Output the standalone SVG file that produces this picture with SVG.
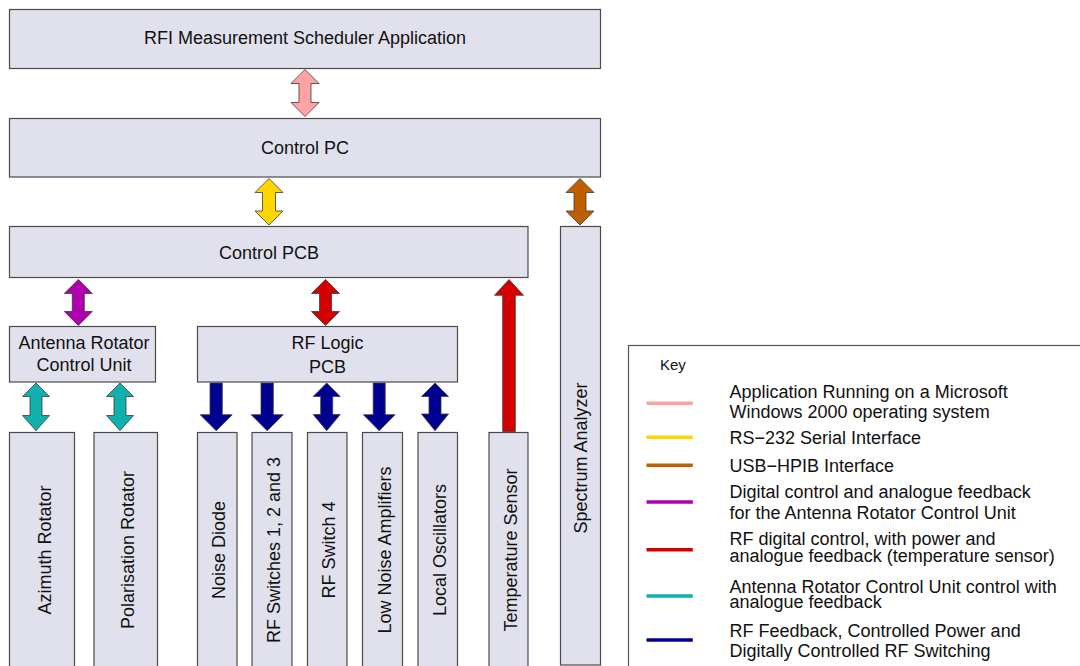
<svg xmlns="http://www.w3.org/2000/svg" width="1080" height="666" viewBox="0 0 1080 666">
  <style>
    .box { fill: #E1E1ED; stroke: #4A4A4A; stroke-width: 1.2; }
    .lbl { font-family: "Liberation Sans", Arial, sans-serif; font-size: 18px; fill: #111; text-anchor: middle; }
    .key { font-family: "Liberation Sans", Arial, sans-serif; font-size: 18px; fill: #111; }
    .arr { stroke: #3A3A3A; stroke-width: 0.8; stroke-linejoin: miter; }
    .pink { fill: #FFA3A3; }
    .yellow { fill: #FFD500; }
    .brown { fill: #C05F00; }
    .purple { fill: #B000B0; }
    .red { fill: #D40000; }
    .teal { fill: #12AFAF; }
    .navy { fill: #000090; }
    .kl { stroke-width: 3.5; }
  </style>

  <rect x="0" y="0" width="1080" height="666" fill="#FFFFFF"/>

  <!-- Nodes -->
  <g id="scheduler-app">
    <rect class="box" x="9.5" y="9.5" width="591" height="59"/>
    <text class="lbl" x="305" y="43.5">RFI Measurement Scheduler Application</text>
  </g>
  <g id="control-pc">
    <rect class="box" x="9.5" y="118.5" width="591" height="58.5"/>
    <text class="lbl" x="305" y="154">Control PC</text>
  </g>
  <g id="control-pcb">
    <rect class="box" x="9.5" y="226.5" width="518.5" height="51"/>
    <text class="lbl" x="269" y="259">Control PCB</text>
  </g>
  <g id="spectrum-analyzer">
    <rect class="box" x="560.5" y="226.5" width="40" height="438.5"/>
    <text class="lbl" transform="translate(587,458) rotate(-90)">Spectrum Analyzer</text>
  </g>
  <g id="antenna-rotator-cu">
    <rect class="box" x="9.5" y="326.5" width="146" height="55.5"/>
    <text class="lbl" x="84" y="348.5">Antenna Rotator</text>
    <text class="lbl" x="84" y="370.5">Control Unit</text>
  </g>
  <g id="rf-logic-pcb">
    <rect class="box" x="197.5" y="326.5" width="260" height="55.5"/>
    <text class="lbl" x="327.5" y="348.5">RF Logic</text>
    <text class="lbl" x="327.5" y="372.5">PCB</text>
  </g>
  <g id="azimuth-rotator">
    <rect class="box" x="9.5" y="432.5" width="65" height="250"/>
    <text class="lbl" transform="translate(50.5,550) rotate(-90)">Azimuth Rotator</text>
  </g>
  <g id="polarisation-rotator">
    <rect class="box" x="94" y="432.5" width="63.5" height="250"/>
    <text class="lbl" transform="translate(133.5,550) rotate(-90)">Polarisation Rotator</text>
  </g>
  <g id="noise-diode">
    <rect class="box" x="197.5" y="432.5" width="39.5" height="250"/>
    <text class="lbl" transform="translate(225.3,550) rotate(-90)">Noise Diode</text>
  </g>
  <g id="rf-switches-123">
    <rect class="box" x="252" y="432.5" width="40" height="250"/>
    <text class="lbl" transform="translate(280,550) rotate(-90)">RF Switches 1, 2 and 3</text>
  </g>
  <g id="rf-switch-4">
    <rect class="box" x="307.5" y="432.5" width="39.5" height="250"/>
    <text class="lbl" transform="translate(335.3,550) rotate(-90)">RF Switch 4</text>
  </g>
  <g id="low-noise-amplifiers">
    <rect class="box" x="362.5" y="432.5" width="40" height="250"/>
    <text class="lbl" transform="translate(390.5,550) rotate(-90)">Low Noise Amplifiers</text>
  </g>
  <g id="local-oscillators">
    <rect class="box" x="418" y="432.5" width="39.5" height="250"/>
    <text class="lbl" transform="translate(445.8,550) rotate(-90)">Local Oscillators</text>
  </g>
  <g id="temperature-sensor">
    <rect class="box" x="489" y="432.5" width="39" height="250"/>
    <text class="lbl" transform="translate(516.5,550) rotate(-90)">Temperature Sensor</text>
  </g>

  <!-- Connectors: block arrows -->
  <g id="connectors">
    <!-- double-headed: head width 28, head height 14, shaft width 12 -->
    <path class="arr pink" d="M305,69.5 L319,83.5 L311,83.5 L311,102.5 L319,102.5 L305,116.5 L291,102.5 L299,102.5 L299,83.5 L291,83.5 Z"/>
    <path class="arr yellow" d="M269,178.5 L283,192.5 L275.5,192.5 L275.5,211 L283,211 L269,225 L255,211 L262.5,211 L262.5,192.5 L255,192.5 Z"/>
    <path class="arr brown" d="M580,178.5 L594,192.5 L586,192.5 L586,211 L594,211 L580,225 L566,211 L574,211 L574,192.5 L566,192.5 Z"/>
    <path class="arr purple" d="M78.3,279.5 L92.3,293.5 L84.3,293.5 L84.3,311.5 L92.3,311.5 L78.3,325.5 L64.3,311.5 L72.3,311.5 L72.3,293.5 L64.3,293.5 Z"/>
    <path class="arr red" d="M325.5,279.5 L339.5,293.5 L331.5,293.5 L331.5,311.5 L339.5,311.5 L325.5,325.5 L311.5,311.5 L319.5,311.5 L319.5,293.5 L311.5,293.5 Z"/>
    <!-- single-headed up to Control PCB -->
    <path class="arr red" d="M509,279.5 L523.5,295.3 L515.3,295.3 L515.3,431.5 L502.7,431.5 L502.7,295.3 L494.5,295.3 Z"/>
    <!-- rotator control unit to rotators -->
    <path class="arr teal" d="M36,383 L49.5,396.5 L42,396.5 L42,415.5 L49.5,415.5 L36,430.7 L22.5,415.5 L30,415.5 L30,396.5 L22.5,396.5 Z"/>
    <path class="arr teal" d="M120,383 L133.5,396.5 L126,396.5 L126,415.5 L133.5,415.5 L120,430.7 L106.5,415.5 L114,415.5 L114,396.5 L106.5,396.5 Z"/>
    <!-- RF logic PCB to RF hardware -->
    <path class="arr navy" d="M210,383 L222.3,383 L222.3,414.7 L232.2,414.7 L216.2,430.7 L200.2,414.7 L210,414.7 Z"/>
    <path class="arr navy" d="M261,383 L273.3,383 L273.3,414.7 L283.2,414.7 L267.2,430.7 L251.2,414.7 L261,414.7 Z"/>
    <path class="arr navy" d="M326.7,383 L340.2,396.5 L332.7,396.5 L332.7,414.5 L340.2,414.5 L326.7,430.7 L313.2,414.5 L320.7,414.5 L320.7,396.5 L313.2,396.5 Z"/>
    <path class="arr navy" d="M373.2,383 L385.2,383 L385.2,414.7 L395,414.7 L379.2,430.7 L363.4,414.7 L373.2,414.7 Z"/>
    <path class="arr navy" d="M435,383 L448.5,396.5 L441,396.5 L441,414 L448.5,414 L435,430.7 L421.5,414 L429,414 L429,396.5 L421.5,396.5 Z"/>
  </g>

  <!-- Key -->
  <g id="legend">
    <rect x="628.5" y="345.5" width="500" height="400" fill="#FFFFFF" stroke="#555555" stroke-width="1.2"/>
    <text class="key" x="660" y="370" style="font-size:15px">Key</text>
    <line class="kl" x1="646.5" y1="403.3" x2="692.8" y2="403.3" stroke="#F9A3A3"/>
    <line class="kl" x1="646.5" y1="437.3" x2="692.8" y2="437.3" stroke="#FFD500"/>
    <line class="kl" x1="646.5" y1="465.3" x2="692.8" y2="465.3" stroke="#C05F00"/>
    <line class="kl" x1="646.5" y1="502" x2="692.8" y2="502" stroke="#B000B0"/>
    <line class="kl" x1="646.5" y1="549.7" x2="692.8" y2="549.7" stroke="#D40000"/>
    <line class="kl" x1="646.5" y1="596" x2="692.8" y2="596" stroke="#12AFAF"/>
    <line class="kl" x1="646.5" y1="640" x2="692.8" y2="640" stroke="#000090"/>
    <text class="key" x="729.5" y="398.3">Application Running on a Microsoft</text>
    <text class="key" x="729.5" y="418.3">Windows 2000 operating system</text>
    <text class="key" x="729.5" y="444.3">RS−232 Serial Interface</text>
    <text class="key" x="729.5" y="472.3">USB−HPIB Interface</text>
    <text class="key" x="729.5" y="498.3">Digital control and analogue feedback</text>
    <text class="key" x="729.5" y="519.3">for the Antenna Rotator Control Unit</text>
    <text class="key" x="729.5" y="545">RF digital control, with power and</text>
    <text class="key" x="729.5" y="562.3">analogue feedback (temperature sensor)</text>
    <text class="key" x="729.5" y="593.3">Antenna Rotator Control Unit control with</text>
    <text class="key" x="729.5" y="608.3">analogue feedback</text>
    <text class="key" x="729.5" y="636.7">RF Feedback, Controlled Power and</text>
    <text class="key" x="729.5" y="657.3">Digitally Controlled RF Switching</text>
  </g>
</svg>
